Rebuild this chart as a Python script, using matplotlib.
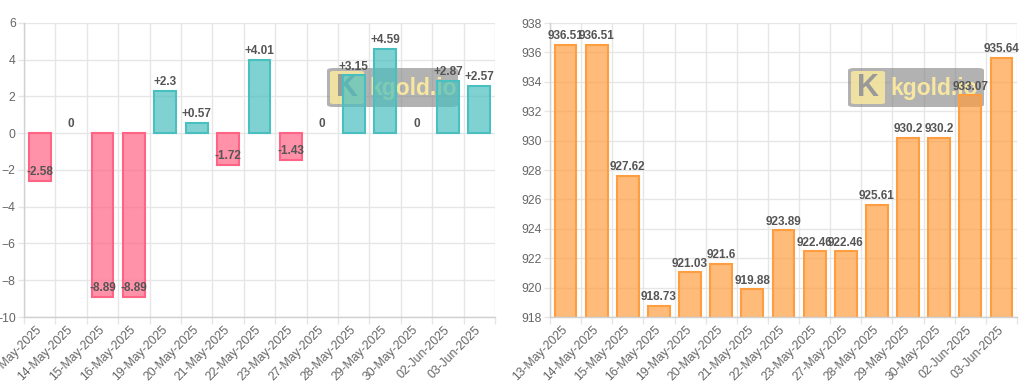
import matplotlib
matplotlib.use("Agg")
import matplotlib.pyplot as plt
from matplotlib.patches import FancyBboxPatch
from matplotlib.ticker import MultipleLocator, FixedLocator
import numpy as np

plt.rcParams['font.family'] = ['Liberation Sans', 'DejaVu Sans']

dates = ["13-May-2025", "14-May-2025", "15-May-2025", "16-May-2025", "19-May-2025",
         "20-May-2025", "21-May-2025", "22-May-2025", "23-May-2025", "27-May-2025",
         "28-May-2025", "29-May-2025", "30-May-2025", "02-Jun-2025", "03-Jun-2025"]
changes = [-2.58, 0, -8.89, -8.89, 2.3, 0.57, -1.72, 4.01, -1.43, 0, 3.15, 4.59, 0, 2.87, 2.57]
prices = [936.51, 936.51, 927.62, 918.73, 921.03, 921.6, 919.88, 923.89, 922.46, 922.46,
          925.61, 930.2, 930.2, 933.07, 935.64]

W, H = 1024, 389
fig = plt.figure(figsize=(W / 100, H / 100), dpi=100)

def px_axes(x0, x1, y0, y1):
    return fig.add_axes([x0 / W, 1 - y1 / H, (x1 - x0) / W, (y1 - y0) / H])

ax1 = px_axes(24, 495, 23, 317)
ax2 = px_axes(550, 1017, 23, 317)

grid_c = '#e6e6e6'
tick_c = '#666666'
label_c = '#555555'

def style(ax, n, ymin, ymax):
    ax.set_xlim(-0.5, n - 0.5)
    ax.set_ylim(ymin, ymax)
    ax.yaxis.set_major_locator(MultipleLocator(2))
    ax.set_xticks(range(n))
    ax.set_xticklabels(dates, rotation=45, ha='right', va='center',
                       rotation_mode='anchor', fontsize=8.8, color=tick_c)
    ax.xaxis.set_minor_locator(FixedLocator(np.arange(-0.5, n, 1.0)))
    ax.tick_params(axis='x', which='major', length=0, pad=8)
    ax.tick_params(axis='x', which='minor', length=5, color=grid_c, width=1)
    ax.tick_params(axis='y', which='major', length=4, color=grid_c, width=1,
                   labelsize=8.8, labelcolor=tick_c, pad=2)
    ax.grid(axis='x', which='minor', color=grid_c, linewidth=1)
    ax.grid(axis='y', which='major', color=grid_c, linewidth=1)
    ax.set_axisbelow(True)
    for s in ['top', 'right']:
        ax.spines[s].set_visible(False)
    for s in ['left', 'bottom']:
        ax.spines[s].set_color('#d0d0d0')
        ax.spines[s].set_linewidth(1)

def watermark(ax, x0, x1, y0, y1):
    tr = fig.transFigure
    box = FancyBboxPatch((x0 / W, 1 - y1 / H), (x1 - x0) / W, (y1 - y0) / H,
                         boxstyle="round,pad=0,rounding_size=0.006",
                         transform=tr, facecolor=(0.5, 0.5, 0.5, 0.6),
                         edgecolor='none', zorder=0.6, clip_on=False)
    ax.add_artist(box)
    lx0 = x0 + 3
    logo = FancyBboxPatch((lx0 / W, 1 - (y1 - 3) / H), 34 / W, (y1 - y0 - 6) / H,
                          boxstyle="round,pad=0,rounding_size=0.004",
                          transform=tr, facecolor=(1.0, 0.93, 0.62, 0.8),
                          edgecolor='none', zorder=0.65, clip_on=False)
    ax.add_artist(logo)
    ax.text((lx0 + 17) / W, 1 - ((y0 + y1) / 2) / H, 'K', transform=tr,
            ha='center', va='center', fontsize=22, fontweight='bold',
            color=(0.6, 0.6, 0.6), zorder=0.7, clip_on=False)
    ax.text((x0 + 42) / W, 1 - ((y0 + y1) / 2 + 1) / H, 'kgold.io', transform=tr,
            ha='left', va='center', fontsize=16.5, fontweight='bold',
            color=(1.0, 0.93, 0.62, 0.9), zorder=0.7, clip_on=False)

# Left chart: changes
style(ax1, len(dates), -10, 6)
x = np.arange(len(dates))
fills = [(1.0, 0.39, 0.52, 0.7) if v < 0 else (0.29, 0.75, 0.75, 0.7) for v in changes]
edges = [(1.0, 0.39, 0.52) if v < 0 else (0.29, 0.75, 0.75) for v in changes]
lws = [0 if v == 0 else 1.5 for v in changes]
ax1.bar(x, changes, width=0.7, color=fills, edgecolor=edges, linewidth=lws, zorder=1)
for xi, v in zip(x, changes):
    s = f"+{v:g}" if v > 0 else f"{v:g}"
    ax1.annotate(s, (xi, v), xytext=(0, 2), textcoords='offset points',
                 ha='center', va='bottom', fontsize=8.5, fontweight='bold',
                 color=label_c, zorder=3)
watermark(ax1, 327, 458, 68, 107)

# Right chart: prices
style(ax2, len(dates), 918, 938)
ax2.bar(x, prices, width=0.7, color=(1.0, 0.62, 0.25, 0.7),
        edgecolor=(1.0, 0.62, 0.25), linewidth=1.5, zorder=1)
for xi, v in zip(x, prices):
    ax2.annotate(f"{v:g}", (xi, v), xytext=(0, 2), textcoords='offset points',
                 ha='center', va='bottom', fontsize=8.5, fontweight='bold',
                 color=label_c, zorder=3)
watermark(ax2, 848, 984, 68, 107)

fig.savefig('out.png', dpi=100)
